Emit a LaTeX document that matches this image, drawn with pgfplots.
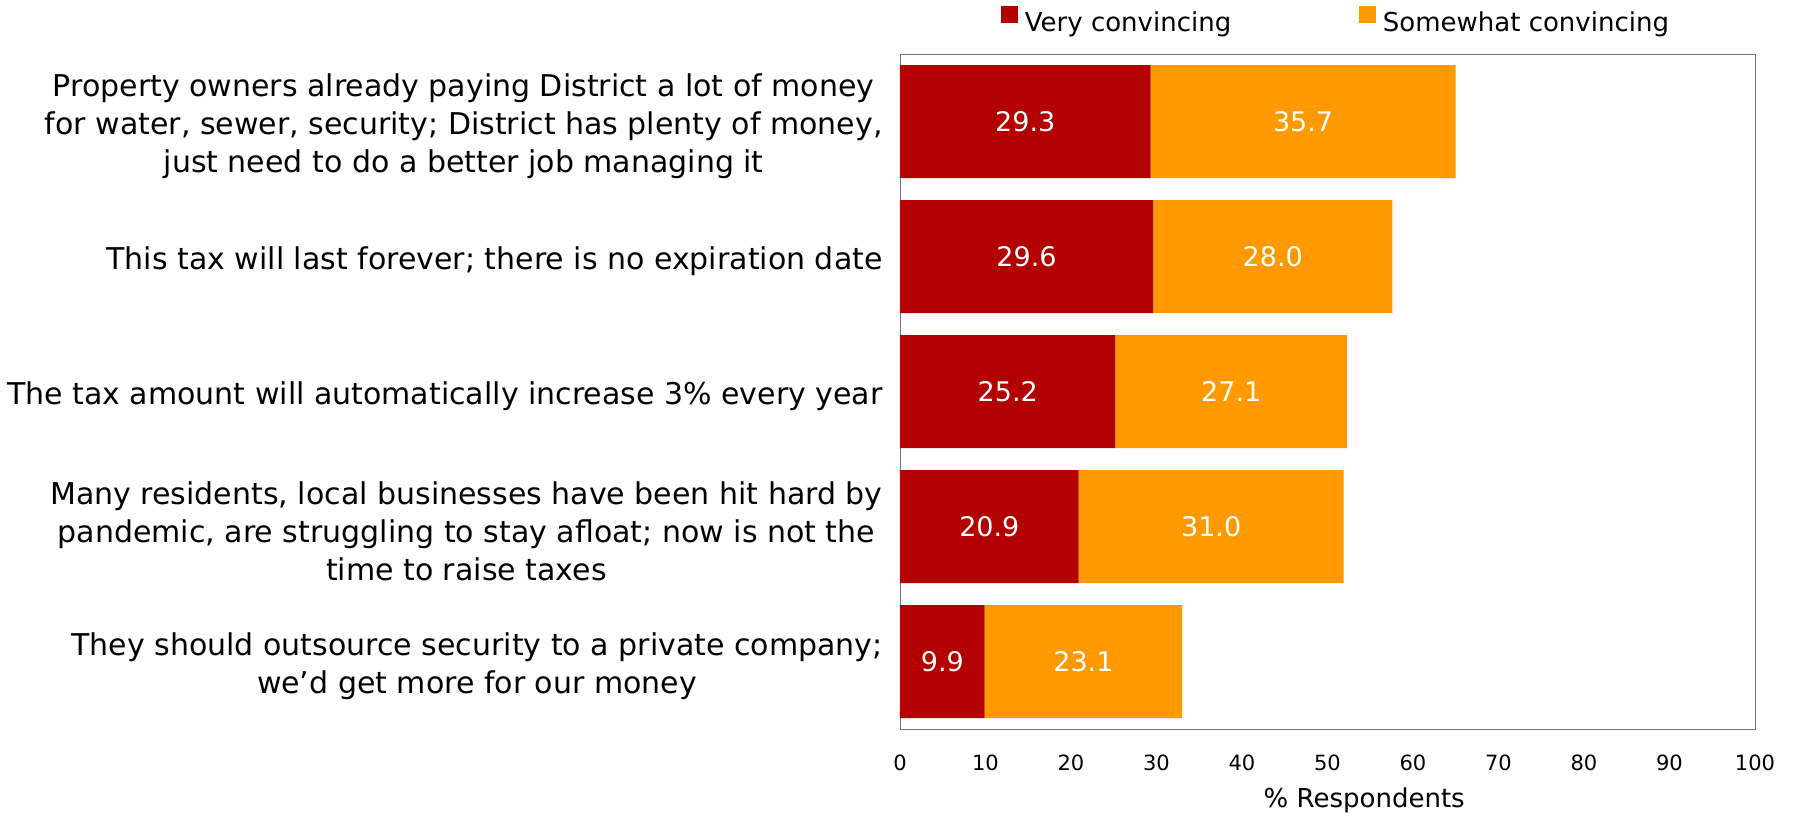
\documentclass[border=0pt]{standalone}
\usepackage{fontspec}
\setmainfont{DejaVu Sans}
\usepackage{pgfplots}
\pgfplotsset{compat=1.18}

\definecolor{veryred}{HTML}{B30000}
\definecolor{someorange}{HTML}{FF9900}

\begin{document}
\begin{tikzpicture}
\path[use as bounding box] (-450pt,-43.5pt) rectangle (446.5pt,364.5pt);
\begin{axis}[
  at={(0,0)}, anchor=south west,
  scale only axis,
  width=427.5pt, height=337.5pt,
  xbar stacked, bar width=56.5pt,
  xmin=0, xmax=100,
  xtick={0,10,...,100},
  ymin=-0.5, ymax=4.5,
  y dir=reverse,
  ytick={0,1,2,3,4},
  yticklabels={
    {Property owners already paying District a lot of money\\for water, sewer, security; District has plenty of money,\\just need to do a better job managing it},
    {This tax will last forever; there is no expiration date},
    {The tax amount will automatically increase 3\% every year},
    {Many residents, local businesses have been hit hard by\\pandemic, are struggling to stay afloat; now is not the\\time to raise taxes},
    {They should outsource security to a private company;\\we’d get more for our money}},
  yticklabel style={align=center, inner sep=0pt, anchor=east, xshift=-8.5pt,
                    yshift=-2.5pt, font=\fontsize{15}{19}\selectfont},
  xticklabel style={inner sep=0pt, anchor=center, yshift=-17pt,
                    font=\fontsize{10.5}{12}\selectfont},
  /pgf/number format/assume math mode=true,
  major tick length=0pt,
  axis line style={draw=black!55},
  xlabel={\% Respondents},
  xlabel style={at={(axis description cs:0.543,0)}, anchor=center, yshift=-35.5pt,
                font=\fontsize{13}{15}\selectfont},
  legend style={at={(0.509,1.05)}, anchor=center, draw=none, legend columns=2,
                font=\fontsize{13}{15}\selectfont,
                nodes={inner sep=0pt},
                /tikz/every odd column/.append style={column sep=3.5pt},
                /tikz/every even column/.append style={column sep=64pt}},
  legend image code/.code={\fill[#1] (0pt,0pt) rectangle (8.3pt,8.3pt);},
  nodes near coords,
  nodes near coords style={text=white, font=\fontsize{13.5}{15}\selectfont,
    /pgf/number format/fixed, /pgf/number format/fixed zerofill,
    /pgf/number format/precision=1,
    /pgf/number format/assume math mode=true,
    anchor=center},
]
\addplot[fill=veryred, draw=none] coordinates {
  (29.3,0) (29.6,1) (25.2,2) (20.9,3) (9.9,4)
};
\addplot[fill=someorange, draw=none] coordinates {
  (35.7,0) (28.0,1) (27.1,2) (31.0,3) (23.1,4)
};
\legend{Very convincing, Somewhat convincing}
\end{axis}
\end{tikzpicture}
\end{document}
